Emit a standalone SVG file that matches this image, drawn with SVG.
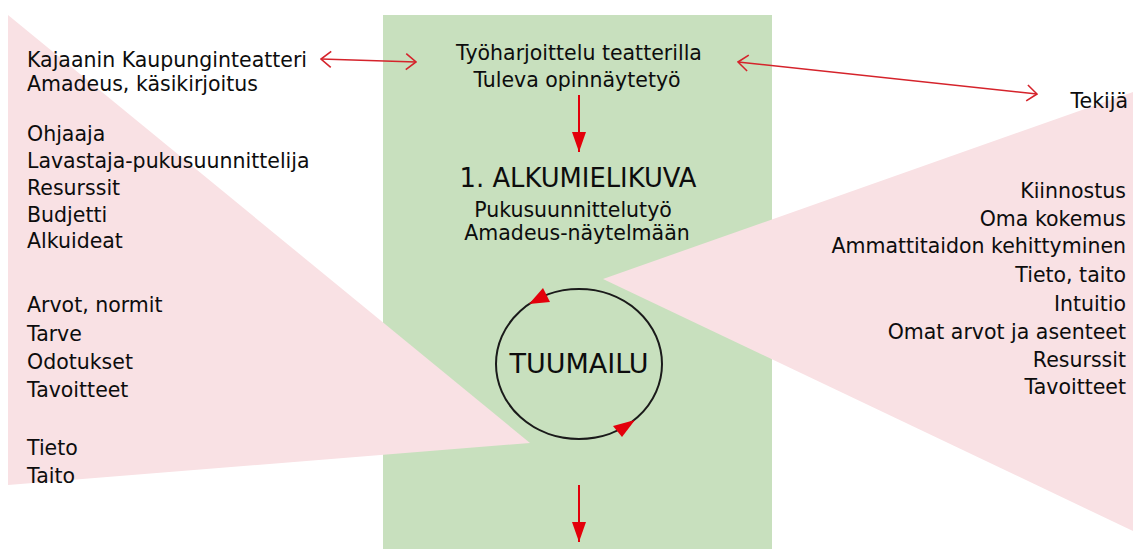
<svg xmlns="http://www.w3.org/2000/svg" width="1133" height="549" viewBox="0 0 1133 549">
  <style>
    .t { font-family: "DejaVu Sans", Verdana, sans-serif; font-size: 20.5px; fill: #0d0d0d; }
    .big { font-size: 25.8px; }
    .mid { text-anchor: middle; }
    .end { text-anchor: end; }
    .pink { fill: #f9e1e4; }
    .green { fill: #c8e0be; }
    .dbl { stroke: #d5232b; stroke-width: 1.6; fill: none; }
    .red { stroke: #e3000b; stroke-width: 2; fill: none; }
    .redfill { fill: #e3000b; }
  </style>
  <defs>
    <marker id="open" viewBox="0 0 12 18" refX="11" refY="9" markerWidth="12" markerHeight="18" markerUnits="userSpaceOnUse" orient="auto-start-reverse">
      <path d="M1,1 L11,9 L1,17" fill="none" stroke="#d5232b" stroke-width="1.6"/>
    </marker>
    <marker id="solid" viewBox="0 0 20 14" refX="20" refY="7" markerWidth="20" markerHeight="14" markerUnits="userSpaceOnUse" orient="auto">
      <path d="M0,0 L20,7 L0,14 z" fill="#e3000b"/>
    </marker>
  </defs>

  <rect width="1133" height="549" fill="#ffffff"/>

  <g id="background">
    <rect class="green" x="383" y="15" width="389" height="534"/>
    <polygon class="pink" points="8,15 530,443 8,485"/>
    <polygon class="pink" points="1133,92 603,279 1133,531"/>
  </g>

  <g id="left-context">
    <text class="t" x="27" y="67">Kajaanin Kaupunginteatteri</text>
    <text class="t" x="27" y="91">Amadeus, käsikirjoitus</text>
    <text class="t" x="27" y="141">Ohjaaja</text>
    <text class="t" x="27" y="168">Lavastaja-pukusuunnittelija</text>
    <text class="t" x="27" y="195">Resurssit</text>
    <text class="t" x="27" y="222">Budjetti</text>
    <text class="t" x="27" y="248">Alkuideat</text>
    <text class="t" x="27" y="312">Arvot, normit</text>
    <text class="t" x="27" y="341">Tarve</text>
    <text class="t" x="27" y="369">Odotukset</text>
    <text class="t" x="27" y="397">Tavoitteet</text>
    <text class="t" x="27" y="455">Tieto</text>
    <text class="t" x="27" y="483">Taito</text>
  </g>

  <g id="practice">
    <text class="t mid" x="579" y="60">Työharjoittelu teatterilla</text>
    <text class="t mid" x="577" y="87">Tuleva opinnäytetyö</text>
  </g>

  <g id="alkumielikuva">
    <text class="t big mid" x="578" y="187">1. ALKUMIELIKUVA</text>
    <text class="t mid" x="573" y="217">Pukusuunnittelutyö</text>
    <text class="t mid" x="577" y="240">Amadeus-näytelmään</text>
  </g>

  <g id="tuumailu">
    <ellipse cx="579" cy="364" rx="83" ry="75" fill="none" stroke="#1a1a1a" stroke-width="2"/>
    <text class="t mid" x="579" y="373" style="font-size:27px">TUUMAILU</text>
    <polygon class="redfill" points="529,304 550,302 543,288"/>
    <polygon class="redfill" points="635,420 613,426 622,437"/>
  </g>

  <g id="tekija">
    <text class="t end" x="1128" y="108">Tekijä</text>
    <text class="t end" x="1126" y="198">Kiinnostus</text>
    <text class="t end" x="1126" y="226">Oma kokemus</text>
    <text class="t end" x="1126" y="253">Ammattitaidon kehittyminen</text>
    <text class="t end" x="1126" y="282">Tieto, taito</text>
    <text class="t end" x="1126" y="311">Intuitio</text>
    <text class="t end" x="1126" y="339">Omat arvot ja asenteet</text>
    <text class="t end" x="1126" y="367">Resurssit</text>
    <text class="t end" x="1126" y="394">Tavoitteet</text>
  </g>

  <g id="connectors">
    <line class="dbl" x1="321" y1="59" x2="416" y2="62" marker-start="url(#open)" marker-end="url(#open)"/>
    <line class="dbl" x1="738" y1="62" x2="1037" y2="94" marker-start="url(#open)" marker-end="url(#open)"/>
    <line class="red" x1="579" y1="95" x2="579" y2="152" marker-end="url(#solid)"/>
    <line class="red" x1="579" y1="485" x2="579" y2="542" marker-end="url(#solid)"/>
  </g>
</svg>
